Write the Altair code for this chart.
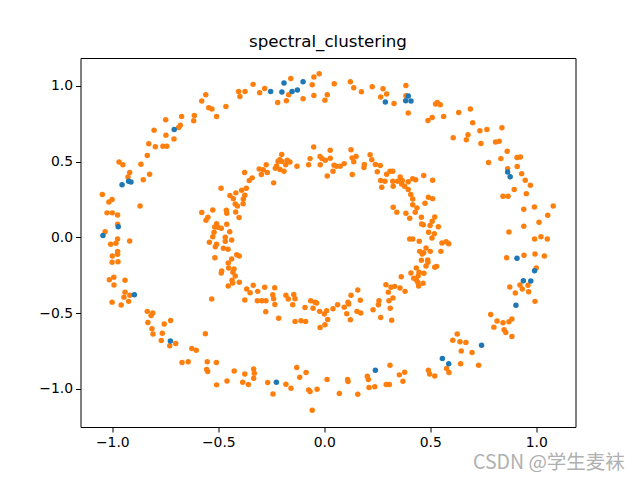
import altair as alt
import pandas as pd

# cluster 0 (blue)
blue_x = [-0.708, -0.923, -0.912, -0.954, -0.253, -0.190, -0.200, -0.152, -0.127, -0.100,
          0.288, 0.384, 0.396, 0.409, 0.865, 0.877, -0.972, -1.044, -0.896, 0.909,
          0.992, 0.939, 0.974, -0.726, -0.226, 0.241, 0.904, 0.742, 0.557, 0.587]
blue_y = [0.711, 0.370, 0.365, 0.346, 0.962, 1.018, 0.958, 0.962, 0.972, 1.026,
          0.892, 0.901, 0.932, 0.899, 0.430, 0.399, 0.070, 0.011, -0.379, -0.139,
          -0.221, -0.287, -0.289, -0.685, -0.956, -0.877, -0.449, -0.712, -0.800, -0.835]

# cluster 1 (orange)
orange_pts = [
    # outer ring, upper left
    (-0.559, 0.940), (-0.578, 0.899), (-0.404, 0.962), (-0.374, 0.962), (-0.398, 0.929),
    (-0.545, 0.855), (-0.530, 0.846), (-0.464, 0.863), (-0.508, 0.797), (-0.613, 0.804),
    (-0.616, 0.769), (-0.673, 0.797), (-0.679, 0.740), (-0.687, 0.724), (-0.748, 0.775),
    (-0.803, 0.707), (-0.747, 0.674), (-0.709, 0.648), (-0.828, 0.617), (-0.797, 0.597),
    (-0.761, 0.601), (-0.743, 0.601), (-0.835, 0.539), (-0.968, 0.496), (-0.950, 0.478),
    (-0.865, 0.482), (-0.918, 0.427), (-0.824, 0.416), (-0.854, 0.379), (-0.926, 0.397),
    # outer ring, top
    (-0.336, 1.009), (-0.305, 0.954), (-0.281, 0.982), (-0.220, 0.890), (-0.179, 0.901),
    (-0.168, 0.940), (-0.158, 1.048), (-0.100, 0.914), (-0.057, 1.007), (-0.049, 1.057),
    (-0.024, 1.079), (-0.049, 0.936), (0.014, 0.940), (0.003, 0.905), (0.047, 1.013),
    (0.123, 1.026), (0.139, 0.987), (0.175, 0.960), (0.226, 0.993), (0.277, 0.980),
    (0.294, 0.945), (0.266, 0.925), (0.329, 0.883), (0.385, 1.002), (0.385, 0.934),
    (0.396, 0.820),
    # outer ring, upper right
    (0.525, 0.879), (0.533, 0.890), (0.547, 0.874), (0.489, 0.771), (0.509, 0.790),
    (0.563, 0.797), (0.634, 0.824), (0.689, 0.846), (0.700, 0.755), (0.734, 0.703),
    (0.767, 0.711), (0.678, 0.676), (0.670, 0.643), (0.608, 0.656), (0.739, 0.619),
    (0.838, 0.722), (0.808, 0.628), (0.825, 0.634), (0.863, 0.568), (0.833, 0.519),
    (0.909, 0.526), (0.925, 0.529), (0.775, 0.493), (0.865, 0.453), (0.910, 0.467),
    (0.931, 0.420), (0.948, 0.377),
    # outer ring, left
    (-1.047, 0.282), (-1.016, 0.233), (-1.001, 0.249), (-0.869, 0.207), (-1.025, 0.161),
    (-1.000, 0.161), (-0.975, 0.147), (-0.975, 0.086), (-1.034, 0.037), (-0.975, -0.011),
    (-0.918, -0.024), (-1.008, -0.046), (-0.983, -0.040), (-0.975, -0.093), (-0.975, -0.112),
    (-1.000, -0.124), (-1.001, -0.165), (-0.973, -0.161), (-1.014, -0.280), (-0.993, -0.264),
    (-0.940, -0.284), (-0.992, -0.315), (-0.940, -0.362), (-0.945, -0.395), (-0.917, -0.383),
    (-1.001, -0.428), (-0.923, -0.423),
    # outer ring, right
    (0.972, 0.344), (0.896, 0.315), (0.843, 0.271), (0.867, 0.271), (0.953, 0.288),
    (0.941, 0.185), (0.991, 0.200), (1.080, 0.207), (1.054, 0.145), (1.013, 0.099),
    (0.941, 0.073), (0.871, 0.035), (0.992, -0.011), (1.022, 0.004), (1.052, -0.011),
    (0.860, -0.135), (0.942, -0.119), (0.994, -0.110), (1.038, -0.124), (1.000, -0.203),
    (0.875, -0.328), (0.901, -0.368), (0.923, -0.315), (0.934, -0.342), (0.961, -0.317),
    (0.964, -0.360), (0.994, -0.423),
    # outer ring, lower left
    (-0.958, -0.447), (-0.835, -0.489), (-0.809, -0.500), (-0.817, -0.516), (-0.832, -0.562),
    (-0.755, -0.573), (-0.725, -0.549), (-0.813, -0.604), (-0.808, -0.639), (-0.764, -0.634),
    (-0.769, -0.681), (-0.729, -0.716), (-0.701, -0.701), (-0.561, -0.637), (-0.625, -0.734),
    (-0.604, -0.745), (-0.671, -0.826), (-0.642, -0.822), (-0.552, -0.822), (-0.509, -0.826),
    (-0.555, -0.872), (-0.550, -0.886), (-0.425, -0.882), (-0.375, -0.902), (-0.508, -0.974),
    (-0.459, -0.948), (-0.385, -0.956), (-0.358, -0.972),
    # outer ring, bottom
    (-0.333, -0.870), (-0.330, -0.897), (-0.333, -0.930), (-0.267, -0.958), (-0.242, -1.034),
    (-0.130, -0.859), (-0.116, -0.923), (-0.086, -0.892), (-0.181, -0.970), (-0.157, -0.996),
    (-0.074, -1.007), (-0.067, -1.018), (-0.034, -1.003), (-0.057, -1.141), (0.013, -0.939),
    (0.071, -1.031), (0.110, -0.939), (0.112, -0.952), (0.158, -1.036), (0.203, -0.917),
    (0.208, -0.939), (0.211, -0.991), (0.238, -0.987), (0.292, -0.972), (0.307, -0.972),
    (0.310, -0.844), (0.354, -0.908), (0.379, -0.890), (0.371, -0.950),
    # outer ring, lower right
    (0.785, -0.509), (0.815, -0.553), (0.843, -0.564), (0.871, -0.558), (0.885, -0.540),
    (0.800, -0.593), (0.848, -0.611), (0.856, -0.628), (0.885, -0.654), (0.627, -0.639),
    (0.606, -0.679), (0.640, -0.690), (0.668, -0.694), (0.646, -0.750), (0.697, -0.760),
    (0.643, -0.835), (0.728, -0.844), (0.577, -0.866), (0.588, -0.892), (0.491, -0.877),
    (0.497, -0.902), (0.521, -0.915),
    # inner ring, top
    (-0.376, 0.427), (-0.050, 0.595), (0.028, 0.575), (0.126, 0.577), (-0.201, 0.546),
    (-0.210, 0.511), (-0.218, 0.502), (-0.200, 0.500), (-0.175, 0.509), (-0.162, 0.496),
    (-0.182, 0.478), (-0.225, 0.471), (-0.231, 0.456), (-0.209, 0.447), (-0.190, 0.436),
    (-0.067, 0.519), (-0.020, 0.533), (-0.011, 0.519), (0.005, 0.509), (0.028, 0.522),
    (-0.019, 0.478), (-0.074, 0.478), (-0.129, 0.469), (0.046, 0.476), (0.057, 0.469),
    (0.075, 0.469), (0.094, 0.486), (0.131, 0.524), (0.150, 0.533), (0.139, 0.498),
    (0.189, 0.480), (0.187, 0.460), (0.216, 0.544), (0.224, 0.511), (0.241, 0.480),
    (0.264, 0.473), (0.041, 0.436), (0.014, 0.405), (0.132, 0.414), (0.250, 0.432),
    (0.310, 0.436), (0.323, 0.436), (0.294, 0.416), (0.358, 0.397), (0.368, 0.374),
    (0.266, 0.374), (0.286, 0.370), (0.323, 0.370), (0.346, 0.370), (-0.307, 0.451),
    (-0.288, 0.445), (-0.274, 0.478), (-0.297, 0.414), (-0.269, 0.427), (-0.239, 0.359),
    (-0.340, 0.392), (-0.354, 0.374), (0.417, 0.387), (0.396, 0.366),
    (0.431, 0.379), (0.469, 0.407), (0.511, 0.377),
    # inner ring, left
    (-0.487, 0.324), (-0.578, 0.163), (-0.549, 0.132), (-0.558, 0.112), (-0.526, 0.180),
    (-0.462, 0.178), (-0.460, 0.159), (-0.445, 0.275), (-0.429, 0.255), (-0.417, 0.293),
    (-0.420, 0.220), (-0.410, 0.207), (-0.390, 0.311), (-0.375, 0.278), (-0.382, 0.253),
    (-0.383, 0.222), (-0.368, 0.324), (-0.418, 0.167), (-0.402, 0.130), (-0.508, 0.090),
    (-0.517, 0.068), (-0.501, 0.066), (-0.460, 0.086), (-0.520, 0.033), (-0.526, 0.004),
    (-0.486, 0.059), (-0.446, 0.037), (-0.467, 0.000), (-0.467, -0.026), (-0.437, -0.018),
    (-0.542, -0.033), (-0.508, -0.046), (-0.514, -0.062), (-0.476, -0.073), (-0.454, -0.079),
    (-0.516, -0.135), (-0.413, -0.115), (-0.401, -0.124), (-0.437, -0.143), (-0.453, -0.170),
    (-0.484, -0.223), (-0.486, -0.236), (-0.451, -0.203), (-0.426, -0.210), (-0.431, -0.231),
    (-0.420, -0.256), (-0.435, -0.284), (-0.432, -0.302), (-0.401, -0.297), (-0.453, -0.322),
    (-0.366, -0.342), (-0.350, -0.366), (-0.531, -0.408), (-0.375, -0.414),
    # inner ring, right
    (0.271, 0.330), (0.325, 0.337), (0.365, 0.352), (0.379, 0.337), (0.396, 0.315),
    (0.408, 0.282), (0.417, 0.253), (0.325, 0.198), (0.342, 0.165), (0.385, 0.159),
    (0.403, 0.126), (0.417, 0.215), (0.403, -0.011), (0.417, -0.011), (0.409, -0.236),
    (0.363, -0.260), (0.437, 0.194), (0.429, 0.165), (0.475, 0.225), (0.491, 0.264),
    (0.511, 0.255), (0.458, 0.132), (0.459, 0.088), (0.467, 0.083), (0.521, 0.134),
    (0.509, 0.106), (0.499, 0.077), (0.538, 0.070), (0.492, 0.033), (0.519, 0.024),
    (0.508, -0.005), (0.448, -0.026), (0.555, -0.038), (0.575, -0.029), (0.587, -0.042),
    (0.550, -0.093), (0.480, -0.071), (0.450, -0.093), (0.462, -0.110), (0.469, -0.102),
    (0.500, -0.093), (0.458, -0.152), (0.488, -0.150), (0.489, -0.165), (0.480, -0.190),
    (0.521, -0.198), (0.530, -0.192), (0.434, -0.203), (0.447, -0.231), (0.470, -0.238),
    (0.422, -0.271), (0.443, -0.254), (0.434, -0.280), (0.441, -0.297), (0.466, -0.304),
    (0.445, -0.322),
    # inner ring, bottom
    (0.291, -0.313), (0.315, -0.330), (0.332, -0.324), (0.357, -0.335), (0.381, -0.357),
    (0.302, -0.362), (0.324, -0.401), (0.305, -0.419), (0.158, -0.348), (0.126, -0.383),
    (0.170, -0.416), (0.258, -0.419), (-0.335, -0.317), (-0.314, -0.357), (-0.281, -0.330),
    (-0.234, -0.333), (-0.243, -0.379), (-0.239, -0.406), (-0.181, -0.383), (-0.144, -0.377),
    (-0.170, -0.408), (-0.138, -0.406), (-0.316, -0.419), (-0.295, -0.419), (-0.275, -0.419),
    (-0.064, -0.419), (-0.044, -0.428), (0.112, -0.428),
    (-0.233, -0.443), (-0.276, -0.492), (-0.215, -0.535), (-0.149, -0.445), (-0.091, -0.463),
    (-0.138, -0.555), (-0.110, -0.551), (-0.088, -0.555), (-0.036, -0.434), (-0.053, -0.469),
    (-0.022, -0.489), (0.000, -0.507), (0.011, -0.485), (0.016, -0.542), (0.003, -0.578),
    (-0.020, -0.595), (0.041, -0.472), (0.063, -0.445), (0.094, -0.461), (0.115, -0.441),
    (0.106, -0.505), (0.123, -0.545), (0.154, -0.489), (0.172, -0.500), (0.230, -0.479),
    (0.255, -0.445), (0.266, -0.529), (0.311, -0.469), (0.318, -0.547),
]

title_text = "spectral_clustering"
watermark_text = "CSDN @学生麦袜"
ticks = [-1.0, -0.5, 0.0, 0.5, 1.0]
x_domain = [-1.150, 1.185]
y_domain = [-1.252, 1.183]

orange_df = pd.DataFrame(orange_pts, columns=["x", "y"])
blue_df = pd.DataFrame({"x": blue_x, "y": blue_y})

FONT = "DejaVu Sans"

xscale = alt.Scale(domain=x_domain, nice=False, zero=False)
yscale = alt.Scale(domain=y_domain, nice=False, zero=False)

xaxis = alt.Axis(values=ticks, format=".1f", title=None, grid=False, domain=False,
                 tickColor="black", tickSize=5, tickWidth=1, labelFontSize=13.9,
                 labelFont=FONT, labelColor="black", labelPadding=3)
yaxis = alt.Axis(values=ticks, format=".1f", title=None, grid=False, domain=False,
                 tickColor="black", tickSize=5, tickWidth=1, labelFontSize=13.9,
                 labelFont=FONT, labelColor="black", labelPadding=3)

orange_layer = alt.Chart(orange_df).mark_circle(size=30, opacity=1, color="#ff7f0e").encode(
    x=alt.X("x:Q", scale=xscale, axis=xaxis),
    y=alt.Y("y:Q", scale=yscale, axis=yaxis),
)
blue_layer = alt.Chart(blue_df).mark_circle(size=30, opacity=1, color="#1f77b4").encode(
    x=alt.X("x:Q", scale=xscale, axis=xaxis),
    y=alt.Y("y:Q", scale=yscale, axis=yaxis),
)

watermark = alt.Chart(pd.DataFrame({"t": [watermark_text]})).mark_text(
    align="left", baseline="alphabetic", fontSize=19.5, font="Noto Sans CJK SC",
    color="#b0b0b0", clip=False
).encode(text="t:N", x=alt.value(392.5), y=alt.value(411))

chart = alt.layer(orange_layer, blue_layer, watermark).properties(
    width=495, height=369,
    title=alt.TitleParams(title_text, fontSize=16.7, font=FONT, fontWeight="normal",
                          color="black", anchor="middle", offset=7),
    autosize=alt.AutoSizeParams(type="none"),
    padding={"left": 72.5, "top": 50, "right": 56.5, "bottom": 45},
).configure(background="white").configure_view(stroke="black", strokeWidth=1)

chart.save("out.html", embed_options={"renderer": "svg", "actions": False})
